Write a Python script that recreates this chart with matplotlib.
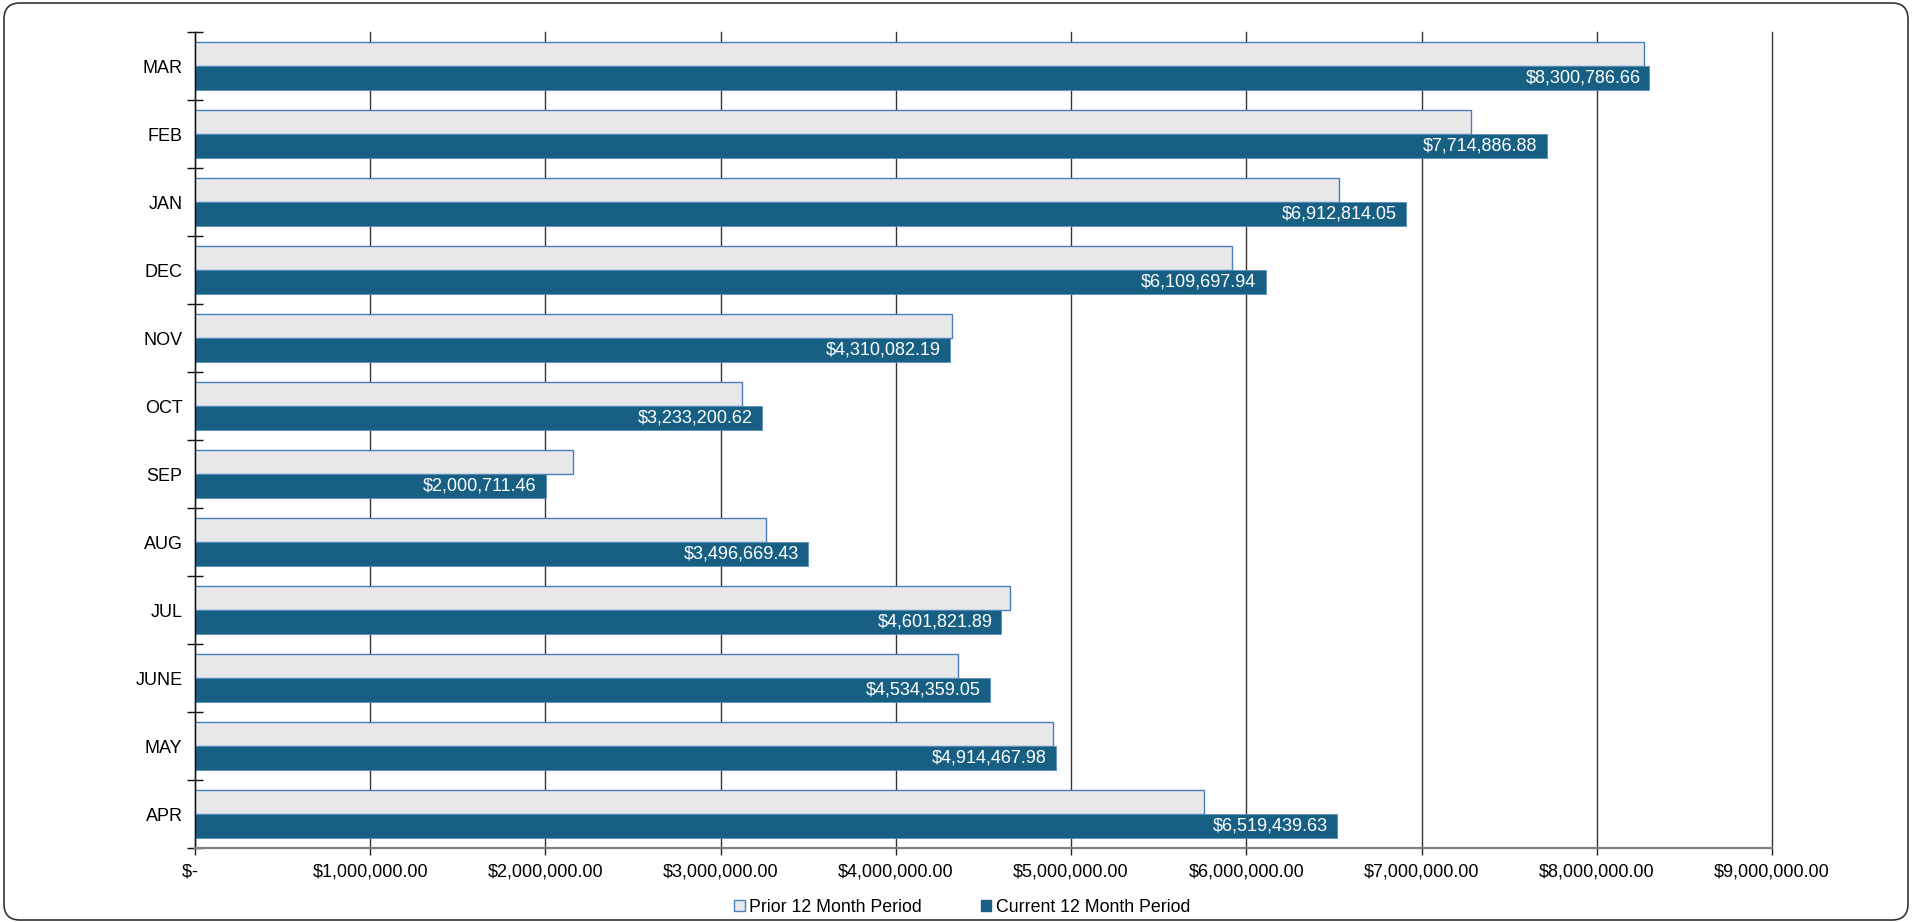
import matplotlib
matplotlib.use("Agg")
import matplotlib.pyplot as plt
import numpy as np
from matplotlib.patches import FancyBboxPatch, Patch
from matplotlib.transforms import IdentityTransform
from matplotlib.ticker import FixedLocator, FuncFormatter

plt.rcParams['font.family'] = ['Liberation Sans', 'DejaVu Sans']

months = ["APR", "MAY", "JUNE", "JUL", "AUG", "SEP", "OCT", "NOV", "DEC", "JAN", "FEB", "MAR"]
prior = [5757000, 4894000, 4352000, 4649000, 3260000, 2160000, 3124000, 4322000, 5920000, 6528000, 7280000, 8267000]
current = [6519439.63, 4914467.98, 4534359.05, 4601821.89, 3496669.43, 2000711.46,
           3233200.62, 4310082.19, 6109697.94, 6912814.05, 7714886.88, 8300786.66]
xticks = [0, 1e6, 2e6, 3e6, 4e6, 5e6, 6e6, 7e6, 8e6, 9e6]
legend_labels = ["Prior 12 Month Period", "Current 12 Month Period"]

W, H = 1912, 922
fig = plt.figure(figsize=(W / 100, H / 100), dpi=100)
ax = fig.add_axes([195 / W, (H - 848) / H, (1772 - 195) / W, (848 - 32) / H])

prior_fc, prior_ec = "#e8e8e8", "#4a7ebb"
cur_fc, cur_ec = "#176083", "#5a8fbf"
FS = 13

y = np.arange(len(months))
h = 0.353
ax.barh(y + h / 2, prior, height=h, color=prior_fc, edgecolor=prior_ec, linewidth=1.0, zorder=3)
ax.barh(y - h / 2, current, height=h, color=cur_fc, edgecolor=cur_ec, linewidth=0.6, zorder=3)

for yy, v in zip(y, current):
    ax.annotate(f"${v:,.2f}", xy=(v, yy - h / 2), xytext=(-6.5, 0), textcoords="offset points",
                ha="right", va="center", color="white", fontsize=FS, zorder=4)

ax.set_xlim(0, 9e6)
ax.set_ylim(-0.5, len(months) - 0.5)

ax.set_xticks(xticks)
ax.xaxis.set_major_formatter(FuncFormatter(lambda v, p: "$-  " if v == 0 else f"${v:,.2f}"))
ax.tick_params(axis="x", direction="out", length=5, width=1, color="#222222", labelsize=FS, pad=6)
ax.grid(axis="x", color="#333333", linewidth=1.0, zorder=1)
for gl in ax.get_xgridlines():
    gl.set_clip_on(False)

ax.yaxis.set_major_locator(FixedLocator(np.arange(-0.5, len(months), 1.0)))
ax.yaxis.set_minor_locator(FixedLocator(y))
ax.set_yticklabels([], minor=False)
ax.set_yticklabels(months, minor=True)
ax.tick_params(axis="y", which="major", direction="inout", length=11, width=1, color="#111111")
ax.tick_params(axis="y", which="minor", length=0, labelsize=FS, pad=9)

for s in ["top", "right"]:
    ax.spines[s].set_visible(False)
ax.spines["left"].set_color("#111111")
ax.spines["left"].set_linewidth(1.0)
ax.spines["bottom"].set_color("#808080")
ax.spines["bottom"].set_linewidth(1.6)
ax.spines["left"].set_zorder(5)
ax.spines["bottom"].set_zorder(5)

handles = [Patch(facecolor=prior_fc, edgecolor=prior_ec, linewidth=1.0),
           Patch(facecolor=cur_fc, edgecolor=cur_fc, linewidth=1.0)]
fig.legend(handles, legend_labels, loc="center", bbox_to_anchor=(962 / W, (H - 907) / H),
           ncol=2, frameon=False, fontsize=12.8, handlelength=0.6, handleheight=0.6,
           handletextpad=0.25, columnspacing=3.3, borderpad=0)

border = FancyBboxPatch((4, 2), W - 8, H - 5, boxstyle="round,pad=0,rounding_size=16",
                        transform=IdentityTransform(), facecolor="none", edgecolor="#333333",
                        linewidth=1.2)
fig.patches.append(border)

fig.savefig("out.png", dpi=100)
